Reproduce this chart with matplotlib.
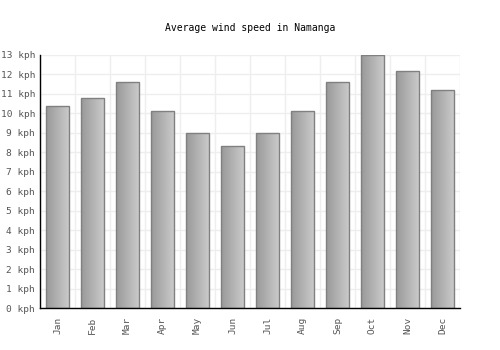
import numpy as np
import matplotlib
matplotlib.use("Agg")
import matplotlib.pyplot as plt
from matplotlib.colors import LinearSegmentedColormap

months = ["Jan", "Feb", "Mar", "Apr", "May", "Jun", "Jul", "Aug", "Sep", "Oct", "Nov", "Dec"]
wind_kph = [10.4, 10.8, 11.6, 10.1, 9.0, 8.3, 9.0, 10.1, 11.6, 13.0, 12.2, 11.2]
y_ticks = list(range(0, 14))
y_labels = [f"{v} kph" for v in y_ticks]
title = "Average wind speed in Namanga"

plt.rcParams['font.family'] = ['DejaVu Sans Mono']
fig = plt.figure(figsize=(5, 3.5), dpi=100)
ax = fig.add_axes([40/500, 1-308/350, 420/500, 253/350])

x = np.arange(len(months))
bars = ax.bar(x, wind_kph, width=0.67, facecolor='none', edgecolor='#808080', linewidth=1, zorder=3)
cmap = LinearSegmentedColormap.from_list('g', ['#999999', '#cccccc'])
grad = np.linspace(0, 1, 64).reshape(1, -1)
for b in bars:
    x0, y0 = b.get_x(), b.get_y()
    w, h = b.get_width(), b.get_height()
    im = ax.imshow(grad, cmap=cmap, aspect='auto', extent=(x0, x0 + w, y0, y0 + h), zorder=2)
    im.set_clip_path(b)

ax.set_xlim(-0.5, len(months) - 0.5)
ax.set_ylim(0, 13)
ax.set_yticks(y_ticks)
ax.set_yticklabels(y_labels)
ax.set_xticks(x)
ax.set_xticklabels(months, rotation=90)
ax.set_xticks(np.arange(-0.5, len(months), 1), minor=True)
ax.tick_params(axis='both', which='major', length=0, labelsize=6.8, colors='#555555', pad=3.5)
ax.tick_params(axis='x', which='major', pad=6)
ax.tick_params(axis='x', which='minor', length=0)
ax.grid(True, axis='y', which='major', color='#eeeeee', linewidth=1, zorder=0)
ax.grid(True, axis='x', which='minor', color='#eeeeee', linewidth=1, zorder=0)
ax.set_axisbelow(True)
for s in ['top', 'right']:
    ax.spines[s].set_visible(False)
for s in ['left', 'bottom']:
    ax.spines[s].set_color('black')
    ax.spines[s].set_linewidth(1)
    ax.spines[s].set_zorder(4)

fig.text(0.5, 1 - 28/350, title, ha='center', va='center', fontsize=7, color='black')
fig.savefig('out.png', dpi=100)
